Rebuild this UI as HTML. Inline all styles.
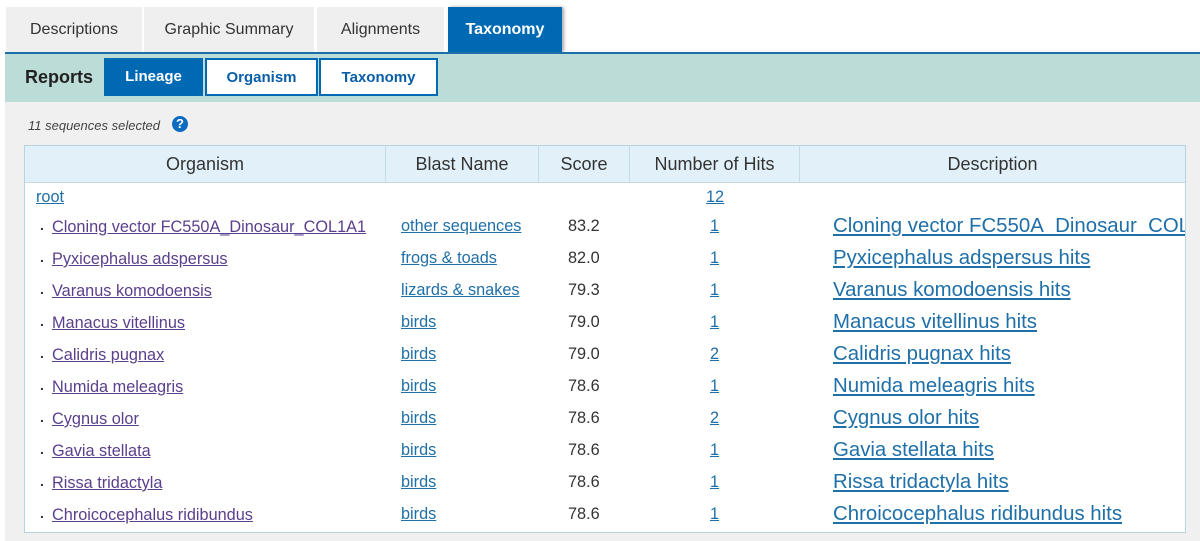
<!DOCTYPE html>
<html><head><style>
body{margin:0;width:1200px;height:541px;background:#fff;font-family:"Liberation Sans",sans-serif;position:relative;overflow:hidden}
.a{position:absolute}
.tab{position:absolute;top:7px;height:45px;background:#efefef;color:#333;font-size:16px;line-height:45px;text-align:center}
.btn{position:absolute;top:58px;height:38px;line-height:38px;text-align:center;font-weight:bold;font-size:15px;box-sizing:border-box}
.th{position:absolute;top:146px;height:36px;line-height:36px;text-align:center;font-size:18px;color:#333;border-right:1px solid #c5dbe6;box-sizing:border-box}
.t{position:absolute;font-size:16.3px;white-space:nowrap}
.p{color:#5b3f8c;text-decoration:underline}
.b{color:#1f6fa8;text-decoration:underline}
.d{color:#1f6fa8;text-decoration:underline;font-size:20.4px}
.s{color:#333}
</style></head><body>
<div class="tab" style="left:6px;width:136px">Descriptions</div>
<div class="tab" style="left:144px;width:170px">Graphic Summary</div>
<div class="tab" style="left:317px;width:127px">Alignments</div>
<div class="tab" style="left:448px;width:114px;background:#0069b4;color:#fff;font-weight:bold;box-shadow:2px 0 3px #aaa">Taxonomy</div>
<div class="a" style="left:5px;top:52px;width:1195px;height:2px;background:#1d6fa8"></div>
<div class="a" style="left:5px;top:54px;width:1195px;height:48px;background:#bbdcd7"></div>
<div class="a" style="left:5px;top:102px;width:1195px;height:439px;background:#f0f0f0"></div>
<div class="a" style="left:25px;top:67px;font-size:18px;font-weight:bold;color:#222">Reports</div>
<div class="btn" style="left:104px;width:99px;background:#0069b4;color:#fff">Lineage</div>
<div class="btn" style="left:205px;width:113px;background:#fff;color:#0a5ea8;border:2px solid #0069b4;line-height:35px">Organism</div>
<div class="btn" style="left:319px;width:119px;background:#fff;color:#0a5ea8;border:2px solid #0069b4;line-height:35px">Taxonomy</div>
<div class="a" style="left:28px;top:118px;font-size:13px;font-style:italic;color:#444">11 sequences selected</div>
<div class="a" style="left:172px;top:116px;width:16px;height:16px;border-radius:50%;background:#0a6bc0;color:#fff;font-size:13px;font-weight:bold;text-align:center;line-height:16px">?</div>
<div class="a" style="left:24px;top:145px;width:1162px;height:388px;background:#fff;border:1px solid #b8d3e2;box-sizing:border-box"></div>
<div class="a" style="left:25px;top:146px;width:1160px;height:36px;background:#e2f1f9;border-bottom:1px solid #c5dbe6"></div>
<div class="th" style="left:25px;width:361px">Organism</div>
<div class="th" style="left:386px;width:153px">Blast Name</div>
<div class="th" style="left:539px;width:91px">Score</div>
<div class="th" style="left:630px;width:170px">Number of Hits</div>
<div class="th" style="left:800px;width:385px;border:0">Description</div>
<div class="t b" style="left:36px;top:188px">root</div>
<div class="t b" style="left:706px;top:188px">12</div>
<div id="rows"></div>
<script>
var r=[["Cloning vector FC550A_Dinosaur_COL1A1","other sequences","83.2","1","Cloning vector FC550A_Dinosaur_COL1A1 hits"],
["Pyxicephalus adspersus","frogs &amp; toads","82.0","1"],["Varanus komodoensis","lizards &amp; snakes","79.3","1"],
["Manacus vitellinus","birds","79.0","1"],["Calidris pugnax","birds","79.0","2"],["Numida meleagris","birds","78.6","1"],
["Cygnus olor","birds","78.6","2"],["Gavia stellata","birds","78.6","1"],["Rissa tridactyla","birds","78.6","1"],
["Chroicocephalus ridibundus","birds","78.6","1"]];
var h="";
r.forEach(function(x,i){var y=218+i*32;
h+='<div class="t s" style="left:40px;top:'+(y-1)+'px;font-size:14px;font-weight:bold">.</div>';
h+='<div class="t p" style="left:52px;top:'+y+'px">'+x[0]+'</div>';
h+='<div class="t b" style="left:401px;top:'+(y-1)+'px">'+x[1]+'</div>';
h+='<div class="t s" style="left:568px;top:'+(y-1)+'px">'+x[2]+'</div>';
h+='<div class="t b" style="left:710px;top:'+(y-1)+'px">'+x[3]+'</div>';
h+='<div class="t d" style="left:833px;top:'+(y-3)+'px;width:352px;overflow:hidden">'+(x[4]||x[0]+' hits')+'</div>';});
document.getElementById("rows").innerHTML=h;
</script>
</body></html>
